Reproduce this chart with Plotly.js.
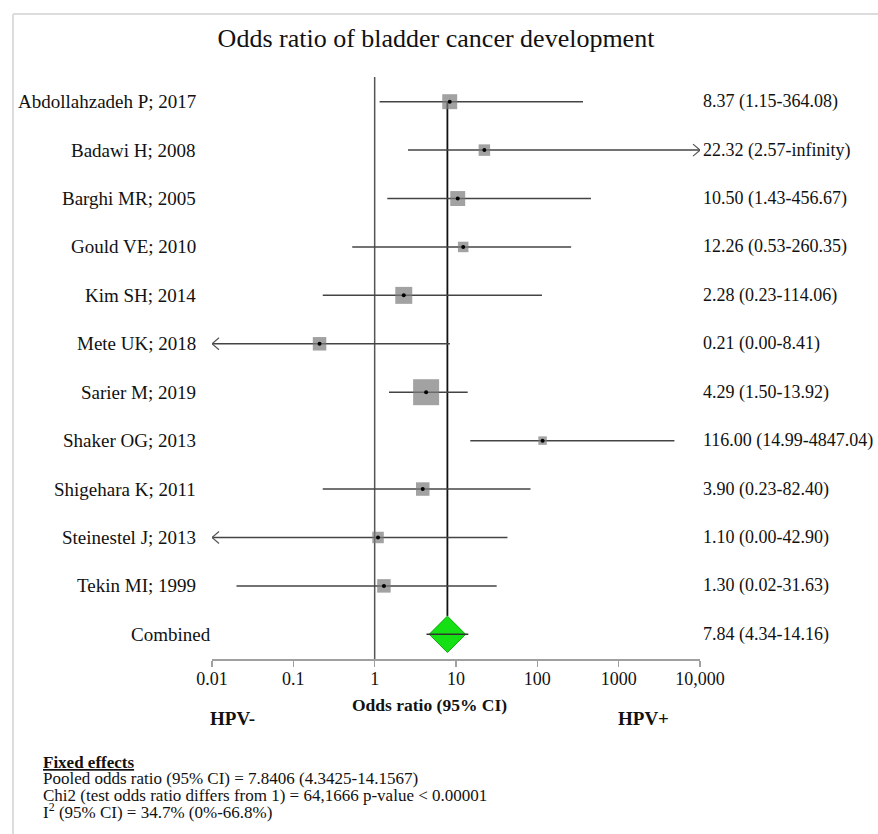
<!DOCTYPE html>
<html>
<head>
<meta charset="utf-8">
<script src="https://cdn.plot.ly/plotly-3.0.1.min.js"></script>
<style>html,body{margin:0;padding:0;background:#fff;}#chart{width:878px;height:834px;}</style>
</head>
<body>
<div id="chart"></div>
<script>
// ---------- data ----------
const studies = ["Abdollahzadeh P; 2017","Badawi H; 2008","Barghi MR; 2005","Gould VE; 2010","Kim SH; 2014","Mete UK; 2018","Sarier M; 2019","Shaker OG; 2013","Shigehara K; 2011","Steinestel J; 2013","Tekin MI; 1999"];
const oddsRatio = [8.37, 22.32, 10.50, 12.26, 2.28, 0.21, 4.29, 116.00, 3.90, 1.10, 1.30];
const ciLow = [1.15, 2.57, 1.43, 0.53, 0.23, 0.00, 1.50, 14.99, 0.23, 0.00, 0.02];
const ciHigh = [364.08, Infinity, 456.67, 260.35, 114.06, 8.41, 13.92, 4847.04, 82.40, 42.90, 31.63];
const weightPct = [9.3, 5.5, 9.3, 4.6, 12.0, 7.6, 28.1, 3.0, 7.6, 5.5, 7.6];
const pooledLabel = "Combined";
const pooledOR = 7.84, pooledLow = 4.34, pooledHigh = 14.16;
const tickVals = [0.01, 0.1, 1, 10, 100, 1000, 10000];
const tickText = ["0.01", "0.1", "1", "10", "100", "1000", "10,000"];
const titleText = "Odds ratio of bladder cancer development";
const axisTitle = "Odds ratio (95% CI)";
const leftSide = "HPV-", rightSide = "HPV+";
const notes = [
  "<b><u>Fixed effects</u></b>",
  "Pooled odds ratio (95% CI) = 7.8406 (4.3425-14.1567)",
  "Chi2 (test odds ratio differs from 1) = 64,1666 p-value < 0.00001",
  "I<sup>2</sup> (95% CI) = 34.7% (0%-66.8%)"
];

// ---------- layout constants ----------
const W = 878, H = 834;
const ML = 212, MR = 178, MT = 77, MB = 175;
const PW = W - ML - MR, PH = H - MT - MB;
const XMIN = 0.01, XMAX = 10000;
const YTOP = -0.51, YBOT = 11.51;
const pxPerDecade = PW / (Math.log10(XMAX) - Math.log10(XMIN));
const pxPerRow = PH / (YBOT - YTOP);
const FONT = "Liberation Serif, Times New Roman, serif";
const px2paperX = p => (p - ML) / PW;
const px2paperY = p => (H - MB - p) / PH;

const n = studies.length;
const rows = studies.map((_, i) => i);
const pooledRow = n;

const fmt = v => v.toFixed(2);
const ciLabels = oddsRatio.map((v, i) => `${fmt(v)} (${fmt(ciLow[i])}-${isFinite(ciHigh[i]) ? fmt(ciHigh[i]) : "infinity"})`);
const pooledCiLabel = `${fmt(pooledOR)} (${fmt(pooledLow)}-${fmt(pooledHigh)})`;

// CI lines and arrows
const ciX = [], ciY = [], arX = [], arY = [];
const arrowDx = Math.pow(10, 7 / pxPerDecade), arrowDy = 6 / pxPerRow;
rows.forEach(i => {
  const lo = ciLow[i] > 0 ? Math.max(ciLow[i], XMIN) : XMIN;
  const hi = isFinite(ciHigh[i]) ? Math.min(ciHigh[i], XMAX) : XMAX;
  ciX.push(lo, hi, null); ciY.push(i, i, null);
  if (!(ciLow[i] > 0)) { arX.push(lo * arrowDx, lo, lo * arrowDx, null); arY.push(i - arrowDy, i, i + arrowDy, null); }
  if (!isFinite(ciHigh[i])) { arX.push(hi / arrowDx, hi, hi / arrowDx, null); arY.push(i - arrowDy, i, i + arrowDy, null); }
});

const diamondSize = 28;
const diamondHalfRows = (diamondSize * 1.3 / 2) / pxPerRow;

const traces = [
  {x: [1, 1], y: [YTOP, YBOT], mode: "lines", line: {color: "#555", width: 1.5}, hoverinfo: "skip", cliponaxis: false},
  {x: [pooledOR, pooledOR], y: [0, pooledRow - diamondHalfRows], mode: "lines", line: {color: "#111", width: 1.8}, hoverinfo: "skip"},
  {x: ciX, y: ciY, mode: "lines", line: {color: "#444", width: 1.5}, hoverinfo: "skip", cliponaxis: false},
  {x: arX, y: arY, mode: "lines", line: {color: "#555", width: 1.2}, hoverinfo: "skip", cliponaxis: false},
  {x: oddsRatio, y: rows, mode: "markers", marker: {symbol: "square", size: weightPct.map(w => 4.9 * Math.sqrt(w)), color: "#7a7a7a", line: {width: 0}}, cliponaxis: false},
  {x: oddsRatio, y: rows, mode: "markers", marker: {symbol: "circle", size: 4, color: "#000"}, cliponaxis: false},
  {x: [pooledOR], y: [pooledRow], mode: "markers", marker: {symbol: "diamond", size: diamondSize, color: "#14e014", line: {color: "#0aa80a", width: 1}}, cliponaxis: false},
  {x: [pooledLow, pooledHigh], y: [pooledRow, pooledRow], mode: "lines", line: {color: "#333", width: 1.5}, hoverinfo: "skip", cliponaxis: false}
];

const LBL = 19, RLBL = 18;
const annotations = [];
rows.forEach(i => {
  annotations.push({xref: "paper", yref: "y", x: px2paperX(198), y: i, text: studies[i], showarrow: false, xanchor: "right", yanchor: "middle", font: {family: FONT, size: LBL, color: "#111"}});
  annotations.push({xref: "paper", yref: "y", x: px2paperX(701), y: i, text: ciLabels[i], showarrow: false, xanchor: "left", yanchor: "middle", font: {family: FONT, size: RLBL, color: "#111"}});
});
annotations.push({xref: "paper", yref: "y", x: px2paperX(213), y: pooledRow, text: pooledLabel, showarrow: false, xanchor: "right", yanchor: "middle", font: {family: FONT, size: LBL, color: "#111"}});
annotations.push({xref: "paper", yref: "y", x: px2paperX(701), y: pooledRow, text: pooledCiLabel, showarrow: false, xanchor: "left", yanchor: "middle", font: {family: FONT, size: RLBL, color: "#111"}});
annotations.push({xref: "paper", yref: "paper", x: px2paperX(429), y: px2paperY(705), text: "<b>" + axisTitle + "</b>", showarrow: false, xanchor: "center", yanchor: "middle", font: {family: FONT, size: 17.5, color: "#111"}});
annotations.push({xref: "paper", yref: "paper", x: px2paperX(232), y: px2paperY(718), text: "<b>" + leftSide + "</b>", showarrow: false, xanchor: "center", yanchor: "middle", font: {family: FONT, size: 19, color: "#111"}});
annotations.push({xref: "paper", yref: "paper", x: px2paperX(643), y: px2paperY(718), text: "<b>" + rightSide + "</b>", showarrow: false, xanchor: "center", yanchor: "middle", font: {family: FONT, size: 19, color: "#111"}});
const noteY = [762, 778, 795, 811];
notes.forEach((t, k) => annotations.push({xref: "paper", yref: "paper", x: px2paperX(42), y: px2paperY(noteY[k]), text: t, showarrow: false, xanchor: "left", yanchor: "middle", borderpad: 0, font: {family: FONT, size: 17, color: "#111"}}));

const shapes = [
  {type: "line", xref: "paper", yref: "paper", x0: px2paperX(13), x1: px2paperX(878), y0: px2paperY(14), y1: px2paperY(14), line: {color: "#dcdcdc", width: 2}},
  {type: "line", xref: "paper", yref: "paper", x0: px2paperX(13), x1: px2paperX(13), y0: px2paperY(14), y1: px2paperY(834), line: {color: "#dcdcdc", width: 2}}
];

const layout = {
  width: W, height: H,
  margin: {l: ML, r: MR, t: MT, b: MB, pad: 0},
  paper_bgcolor: "#fff", plot_bgcolor: "#fff",
  showlegend: false,
  title: {text: titleText, xref: "container", x: 436 / W, xanchor: "center", yref: "container", y: 1 - 38 / H, yanchor: "middle", font: {family: FONT, size: 26, color: "#111"}},
  xaxis: {type: "log", range: [Math.log10(XMIN), Math.log10(XMAX)], showgrid: false, zeroline: false, showline: true, linecolor: "#a0a0a0", linewidth: 1.5,
          ticks: "outside", ticklen: 6, tickcolor: "#a0a0a0", tickwidth: 1.2, tickvals: tickVals, ticktext: tickText, ticklabelstandoff: -3,
          tickfont: {family: FONT, size: 18, color: "#111"}, fixedrange: true},
  yaxis: {range: [YBOT, YTOP], visible: false, showgrid: false, zeroline: false, fixedrange: true},
  annotations: annotations,
  shapes: shapes
};

Plotly.newPlot("chart", traces, layout, {staticPlot: true, displayModeBar: false});
</script>
</body>
</html>
